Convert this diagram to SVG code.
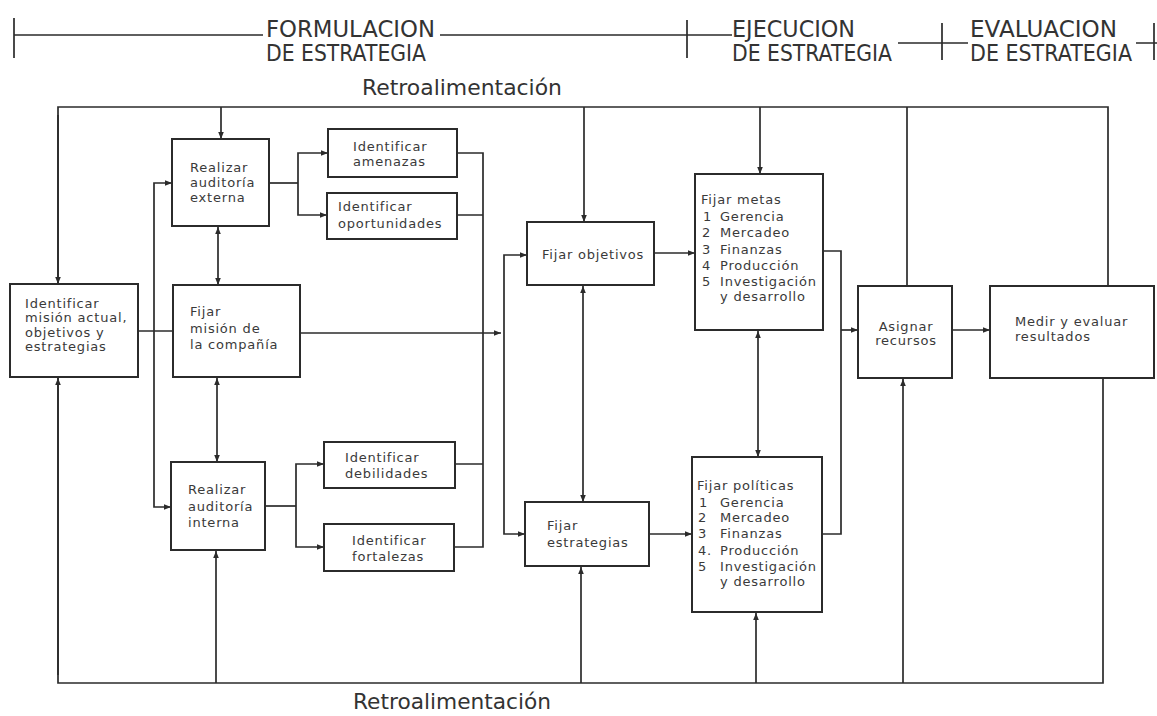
<svg xmlns="http://www.w3.org/2000/svg" width="1157" height="716" viewBox="0 0 1157 716">
  <defs>
    <marker id="arr" viewBox="0 0 10 10" refX="10" refY="5" markerWidth="7" markerHeight="7" markerUnits="userSpaceOnUse" orient="auto">
      <path d="M0,1 L10,5 L0,9 Z" fill="#2b2b2b"/>
    </marker>
    <style>
      .ln{fill:none;stroke:#2b2b2b;stroke-width:1.7}
      .bx{fill:#fff;stroke:#2b2b2b;stroke-width:2}
      .t{font-family:"DejaVu Sans","Liberation Sans",sans-serif;font-size:13px;letter-spacing:0.8px;fill:#3a3a3a}
      .h{font-family:"DejaVu Sans","Liberation Sans",sans-serif;font-size:23px;fill:#333}
      .r{font-family:"DejaVu Sans","Liberation Sans",sans-serif;font-size:21px;fill:#333}
    </style>
  </defs>
  <rect width="1157" height="716" fill="#fff"/>

  <!-- phase scale along the top -->
  <g id="phases">
    <path class="ln" d="M14,35 H263 M440,35 H732 M898,43 H968 M1136,43 H1157 M14,18 V58 M687,20 V58 M942,23 V60 M1154,23 V60"/>
    <text class="h" x="266" y="37" textLength="169" lengthAdjust="spacingAndGlyphs">FORMULACION</text>
    <text class="h" x="266" y="61" textLength="160" lengthAdjust="spacingAndGlyphs">DE ESTRATEGIA</text>
    <text class="h" x="732" y="37" textLength="123" lengthAdjust="spacingAndGlyphs">EJECUCION</text>
    <text class="h" x="732" y="61" textLength="160" lengthAdjust="spacingAndGlyphs">DE ESTRATEGIA</text>
    <text class="h" x="970" y="37" textLength="147" lengthAdjust="spacingAndGlyphs">EVALUACION</text>
    <text class="h" x="970" y="61" textLength="162" lengthAdjust="spacingAndGlyphs">DE ESTRATEGIA</text>
  </g>

  <text class="r" x="362" y="95" textLength="200" lengthAdjust="spacingAndGlyphs">Retroalimentación</text>
  <text class="r" x="353" y="709" textLength="198" lengthAdjust="spacingAndGlyphs">Retroalimentación</text>

  <!-- connectors -->
  <g id="connectors">
    <!-- feedback loops -->
    <path class="ln" d="M58,284 V107 H1108 V286"/>
    <path class="ln" d="M58,377 V683 H1103 V378"/>
    <path class="ln" marker-end="url(#arr)" d="M58,115 V284"/>
    <path class="ln" marker-end="url(#arr)" d="M58,675 V378"/>
    <path class="ln" marker-end="url(#arr)" d="M221,107 V139"/>
    <path class="ln" marker-end="url(#arr)" d="M584,107 V222"/>
    <path class="ln" marker-end="url(#arr)" d="M760,107 V174"/>
    <path class="ln" d="M907,107 V286"/>
    <path class="ln" marker-end="url(#arr)" d="M216,683 V551"/>
    <path class="ln" marker-end="url(#arr)" d="M581,683 V567"/>
    <path class="ln" marker-end="url(#arr)" d="M756,683 V613"/>
    <path class="ln" marker-end="url(#arr)" d="M903,683 V379"/>

    <!-- left fan-out -->
    <path class="ln" d="M138,331 H173"/>
    <path class="ln" marker-end="url(#arr)" d="M154,331 V183 H172"/>
    <path class="ln" marker-end="url(#arr)" d="M154,331 V507 H171"/>

    <!-- audits and mission -->
    <path class="ln" marker-end="url(#arr)" d="M218,256 V227"/>
    <path class="ln" marker-end="url(#arr)" d="M218,256 V285"/>
    <path class="ln" marker-end="url(#arr)" d="M217,420 V378"/>
    <path class="ln" marker-end="url(#arr)" d="M217,420 V462"/>

    <!-- external audit branches -->
    <path class="ln" d="M269,183 H298"/>
    <path class="ln" marker-end="url(#arr)" d="M298,183 V153 H328"/>
    <path class="ln" marker-end="url(#arr)" d="M298,183 V215 H327"/>
    <!-- internal audit branches -->
    <path class="ln" d="M265,506 H296"/>
    <path class="ln" marker-end="url(#arr)" d="M296,506 V464 H324"/>
    <path class="ln" marker-end="url(#arr)" d="M296,506 V547 H324"/>

    <!-- SWOT collector -->
    <path class="ln" d="M457,153 H483 V547 H454 M457,215 H483 M455,464 H483"/>

    <!-- mission to objectives / strategies -->
    <path class="ln" marker-end="url(#arr)" d="M300,333 H501"/>
    <path class="ln" marker-end="url(#arr)" d="M504,394 V255 H527"/>
    <path class="ln" marker-end="url(#arr)" d="M504,394 V534 H525"/>
    <path class="ln" marker-end="url(#arr)" d="M583,394 V286"/>
    <path class="ln" marker-end="url(#arr)" d="M583,394 V502"/>

    <!-- objectives / strategies to goals / policies -->
    <path class="ln" marker-end="url(#arr)" d="M654,253 H695"/>
    <path class="ln" marker-end="url(#arr)" d="M649,534 H692"/>
    <path class="ln" marker-end="url(#arr)" d="M758,393 V331"/>
    <path class="ln" marker-end="url(#arr)" d="M758,393 V457"/>

    <!-- goals / policies to resources -->
    <path class="ln" d="M823,251 H841 V534 H822"/>
    <path class="ln" marker-end="url(#arr)" d="M841,330 H858"/>
    <path class="ln" marker-end="url(#arr)" d="M952,330 H990"/>
  </g>

  <g id="n-identificar">
    <rect class="bx" x="10" y="284" width="128" height="93"/>
    <text class="t" x="25" y="308">Identificar</text>
    <text class="t" x="25" y="322">misión actual,</text>
    <text class="t" x="25" y="337">objetivos y</text>
    <text class="t" x="25" y="351">estrategias</text>
  </g>
  <g id="n-auditoria-externa">
    <rect class="bx" x="172" y="139" width="97" height="87"/>
    <text class="t" x="190" y="172">Realizar</text>
    <text class="t" x="190" y="187">auditoría</text>
    <text class="t" x="190" y="202">externa</text>
  </g>
  <g id="n-mision">
    <rect class="bx" x="173" y="285" width="127" height="92"/>
    <text class="t" x="190" y="316">Fijar</text>
    <text class="t" x="190" y="333">misión de</text>
    <text class="t" x="190" y="349">la compañía</text>
  </g>
  <g id="n-auditoria-interna">
    <rect class="bx" x="171" y="462" width="94" height="88"/>
    <text class="t" x="188" y="494">Realizar</text>
    <text class="t" x="188" y="511">auditoría</text>
    <text class="t" x="188" y="527">interna</text>
  </g>
  <g id="n-amenazas">
    <rect class="bx" x="328" y="129" width="129" height="48"/>
    <text class="t" x="353" y="151">Identificar</text>
    <text class="t" x="353" y="166">amenazas</text>
  </g>
  <g id="n-oportunidades">
    <rect class="bx" x="327" y="193" width="130" height="46"/>
    <text class="t" x="338" y="211">Identificar</text>
    <text class="t" x="338" y="228">oportunidades</text>
  </g>
  <g id="n-debilidades">
    <rect class="bx" x="324" y="442" width="131" height="46"/>
    <text class="t" x="345" y="462">Identificar</text>
    <text class="t" x="345" y="478">debilidades</text>
  </g>
  <g id="n-fortalezas">
    <rect class="bx" x="324" y="524" width="130" height="47"/>
    <text class="t" x="352" y="545">Identificar</text>
    <text class="t" x="352" y="561">fortalezas</text>
  </g>
  <g id="n-objetivos">
    <rect class="bx" x="527" y="222" width="127" height="63"/>
    <text class="t" x="542" y="259">Fijar objetivos</text>
  </g>
  <g id="n-estrategias">
    <rect class="bx" x="525" y="502" width="124" height="64"/>
    <text class="t" x="547" y="530">Fijar</text>
    <text class="t" x="547" y="547">estrategias</text>
  </g>
  <g id="n-metas">
    <rect class="bx" x="695" y="174" width="128" height="156"/>
    <text class="t" x="701" y="204">Fijar metas</text>
    <text class="t" x="703" y="221">1</text><text class="t" x="720" y="221">Gerencia</text>
    <text class="t" x="702" y="237">2</text><text class="t" x="720" y="237">Mercadeo</text>
    <text class="t" x="702" y="254">3</text><text class="t" x="720" y="254">Finanzas</text>
    <text class="t" x="702" y="270">4</text><text class="t" x="720" y="270">Producción</text>
    <text class="t" x="702" y="286">5</text><text class="t" x="720" y="286">Investigación</text>
    <text class="t" x="720" y="301">y desarrollo</text>
  </g>
  <g id="n-politicas">
    <rect class="bx" x="692" y="457" width="130" height="155"/>
    <text class="t" x="697" y="490">Fijar políticas</text>
    <text class="t" x="699" y="507">1</text><text class="t" x="720" y="507">Gerencia</text>
    <text class="t" x="698" y="522">2</text><text class="t" x="720" y="522">Mercadeo</text>
    <text class="t" x="698" y="538">3</text><text class="t" x="720" y="538">Finanzas</text>
    <text class="t" x="698" y="555">4.</text><text class="t" x="720" y="555">Producción</text>
    <text class="t" x="698" y="571">5</text><text class="t" x="720" y="571">Investigación</text>
    <text class="t" x="720" y="586">y desarrollo</text>
  </g>
  <g id="n-recursos">
    <rect class="bx" x="858" y="286" width="94" height="92"/>
    <text class="t" x="906" y="331" text-anchor="middle">Asignar</text>
    <text class="t" x="906" y="345" text-anchor="middle">recursos</text>
  </g>
  <g id="n-medir">
    <rect class="bx" x="990" y="286" width="164" height="92"/>
    <text class="t" x="1015" y="326">Medir y evaluar</text>
    <text class="t" x="1015" y="341">resultados</text>
  </g>
</svg>
